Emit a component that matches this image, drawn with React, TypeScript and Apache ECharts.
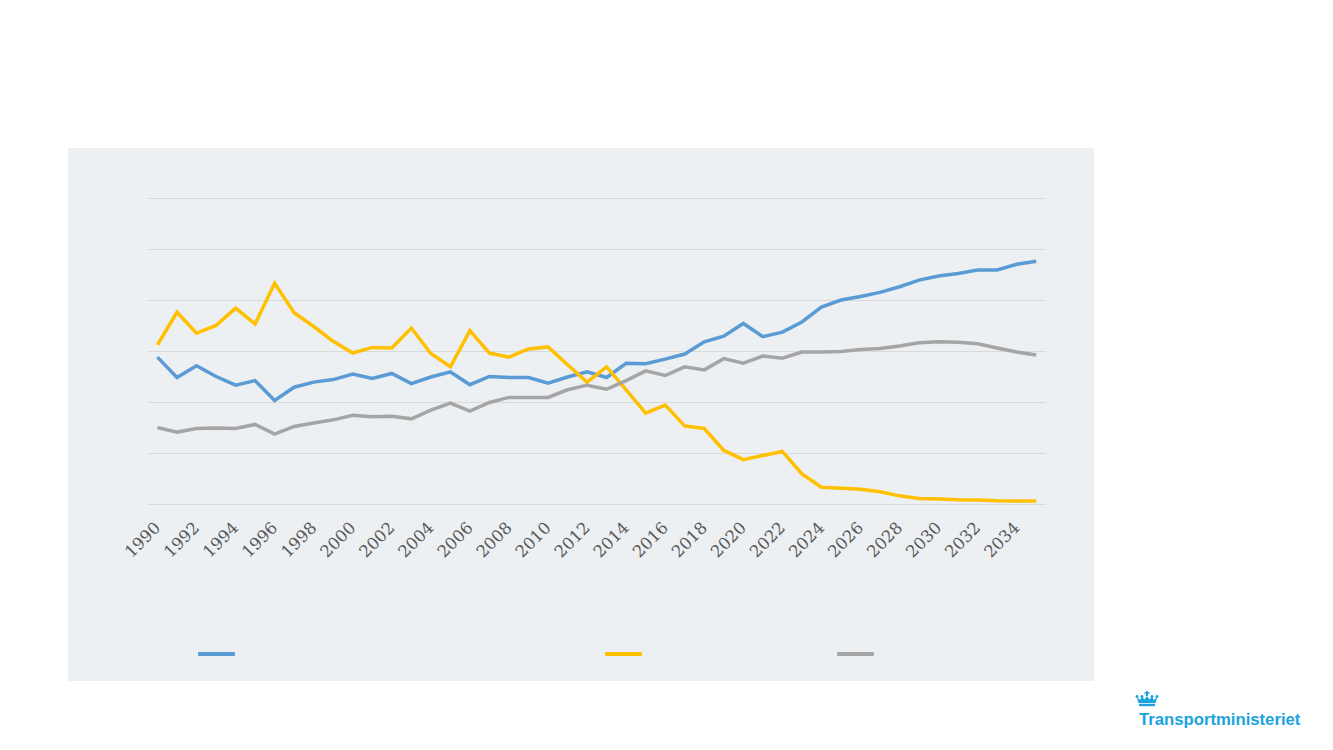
import React, { useEffect, useRef } from "react";
import * as echarts from "echarts";

const years: string[] = [];
for (let y = 1990; y <= 2035; y++) years.push(String(y));

const blueSeries = [
  28.8, 24.8, 27.1, 25.0, 23.3, 24.2, 20.3, 22.9, 23.9, 24.4,
  25.5, 24.6, 25.6, 23.6, 24.9, 25.9, 23.4, 25.0, 24.8, 24.8,
  23.7, 24.9, 25.9, 24.8, 27.6, 27.5, 28.4, 29.4, 31.8, 32.9,
  35.4, 32.8, 33.7, 35.7, 38.6, 40.0, 40.7, 41.5, 42.6, 43.9,
  44.7, 45.2, 45.9, 45.9, 47.0, 47.6,
];

const yellowSeries = [
  31.2, 37.6, 33.5, 35.0, 38.4, 35.3, 43.3, 37.5, 34.8, 31.9,
  29.6, 30.7, 30.6, 34.5, 29.5, 26.9, 34.0, 29.6, 28.8, 30.4,
  30.8, 27.3, 23.9, 26.9, 22.4, 17.8, 19.4, 15.3, 14.8, 10.5,
  8.7, 9.5, 10.3, 5.9, 3.3, 3.1, 2.9, 2.4, 1.6, 1.1,
  1.0, 0.85, 0.8, 0.65, 0.6, 0.6,
];

const graySeries = [
  15.0, 14.1, 14.8, 14.9, 14.8, 15.6, 13.7, 15.2, 15.9, 16.5,
  17.4, 17.1, 17.2, 16.7, 18.4, 19.8, 18.2, 19.9, 20.9, 20.9,
  20.9, 22.4, 23.3, 22.5, 24.2, 26.1, 25.2, 26.9, 26.3, 28.5,
  27.6, 29.0, 28.6, 29.8, 29.8, 29.9, 30.3, 30.5, 31.0, 31.6,
  31.8, 31.7, 31.4, 30.6, 29.8, 29.2,
];

const seriesNames = ["Serie 1", "Serie 2", "Serie 3"];
const seriesColors = ["#5B9BD5", "#FFC000", "#A5A5A5"];
const logoText = "Transportministeriet";

export default function App() {
  const ref = useRef<HTMLDivElement>(null);

  useEffect(() => {
    if (!ref.current) return;
    const chart = echarts.init(ref.current, null, { renderer: "svg" });
    const data = [blueSeries, yellowSeries, graySeries];
    const legendLefts = [198, 605, 837];

    chart.setOption({
      animation: false,
      backgroundColor: "#FFFFFF",
      graphic: [
        {
          type: "rect",
          z: -10,
          shape: { x: 68, y: 148, width: 1026, height: 533 },
          style: { fill: "#EDF0F3" },
        },
        // crown logo
        {
          type: "group",
          x: 1136,
          y: 691,
          children: [
            { type: "rect", shape: { x: 10, y: 0, width: 2, height: 5 }, style: { fill: "#1BA3DE" } },
            { type: "rect", shape: { x: 8.5, y: 1.2, width: 5, height: 1.6 }, style: { fill: "#1BA3DE" } },
            {
              type: "polygon",
              shape: {
                points: [
                  [0.5, 5.5], [4, 9], [6, 5.5], [8.5, 8.5], [11, 5],
                  [13.5, 8.5], [16, 5.5], [18, 9], [21.5, 5.5], [19.5, 12], [2.5, 12],
                ],
              },
              style: { fill: "#1BA3DE" },
            },
            { type: "circle", shape: { cx: 1, cy: 5.5, r: 1.5 }, style: { fill: "#1BA3DE" } },
            { type: "circle", shape: { cx: 6, cy: 5.5, r: 1.5 }, style: { fill: "#1BA3DE" } },
            { type: "circle", shape: { cx: 16, cy: 5.5, r: 1.5 }, style: { fill: "#1BA3DE" } },
            { type: "circle", shape: { cx: 21, cy: 5.5, r: 1.5 }, style: { fill: "#1BA3DE" } },
            { type: "rect", shape: { x: 3, y: 12.8, width: 16, height: 2.4 }, style: { fill: "#1BA3DE" } },
          ],
        },
        {
          type: "text",
          x: 1139,
          y: 711,
          style: {
            text: logoText,
            fill: "#1BA3DE",
            font: "bold 16.7px 'Liberation Sans', Arial, sans-serif",
          },
        },
      ],
      grid: {
        left: 147.7,
        right: 287,
        top: 198,
        bottom: 246,
        containLabel: false,
      },
      legend: seriesNames.map((n, i) => ({
        show: true,
        data: [n],
        left: legendLefts[i],
        top: 652,
        padding: 0,
        icon: "roundRect",
        itemWidth: 37,
        itemHeight: 4,
        selectedMode: false,
        formatter: () => "",
        textStyle: { fontSize: 1 },
      })),
      xAxis: {
        type: "category",
        data: years,
        boundaryGap: true,
        axisLine: { show: false },
        axisTick: { show: false },
        axisLabel: {
          interval: 1,
          rotate: 45,
          margin: 21,
          color: "#595959",
          fontSize: 16.5,
          fontFamily: "'DejaVu Serif', serif",
        },
      },
      yAxis: {
        type: "value",
        min: 0,
        max: 60,
        interval: 10,
        axisLabel: { show: false },
        axisLine: { show: false },
        axisTick: { show: false },
        splitLine: { lineStyle: { color: "#D9D9D9", width: 1 } },
      },
      series: seriesNames.map((n, i) => ({
        name: n,
        type: "line",
        data: data[i],
        symbol: "none",
        showSymbol: false,
        color: seriesColors[i],
        lineStyle: { width: 3.5, color: seriesColors[i], join: "miter" },
      })),
    });

    return () => chart.dispose();
  }, []);

  return (
    <div
      ref={ref}
      style={{ position: "absolute", left: 0, top: 0, width: 1333, height: 750 }}
    />
  );
}
